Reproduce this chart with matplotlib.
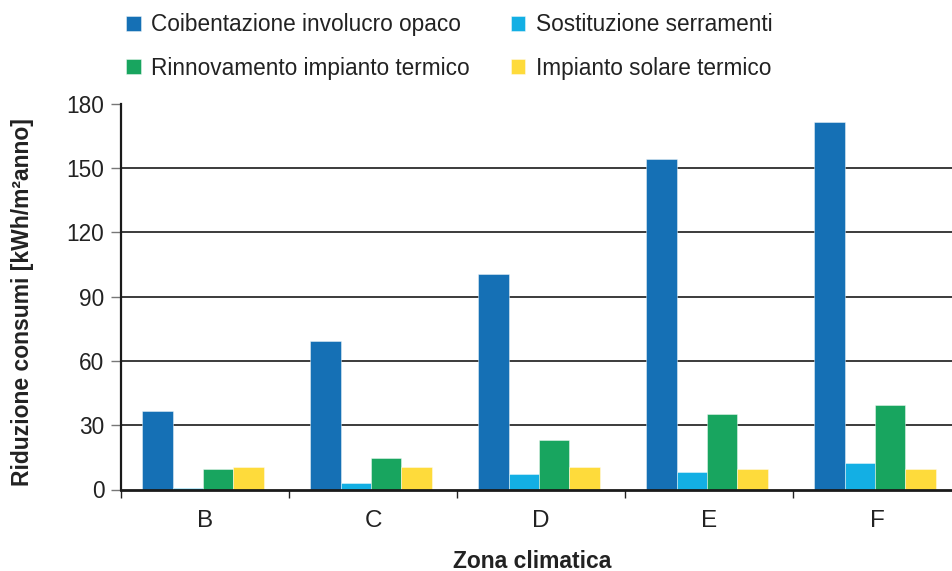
import matplotlib
matplotlib.use("Agg")
import matplotlib.pyplot as plt
import numpy as np
from matplotlib.patches import Patch

plt.rcParams['font.family'] = ['Liberation Sans', 'DejaVu Sans']

zones = ['B', 'C', 'D', 'E', 'F']
series_names = ['Coibentazione involucro opaco', 'Sostituzione serramenti',
                'Rinnovamento impianto termico', 'Impianto solare termico']
coibentazione = [36.7, 69.5, 100.7, 154.5, 171.5]
serramenti = [0.8, 2.9, 7.2, 8.4, 12.3]
impianto_termico = [9.6, 14.7, 22.9, 35.3, 39.4]
solare_termico = [10.6, 10.6, 10.6, 9.5, 9.5]
colors = ['#1570b5', '#13afe4', '#18a55f', '#fedb3b']
yticks = [0, 30, 60, 90, 120, 150, 180]

W, H = 952, 571
fig = plt.figure(figsize=(W / 100, H / 100), dpi=100)
ax = fig.add_axes([121 / W, (H - 489.5) / H, (961 - 121) / W, (489.5 - 104) / H])

x = np.arange(len(zones))
bw = 0.181
data = [coibentazione, serramenti, impianto_termico, solare_termico]
for i, (vals, c) in enumerate(zip(data, colors)):
    ax.bar(x + (i - 1.5) * bw - 0.012, vals, width=bw, color=c,
           edgecolor=(1, 1, 1, 0.5), linewidth=0.6, zorder=2)

ax.set_xlim(-0.5, len(zones) - 0.5)
ax.set_ylim(0, 180)
ax.set_yticks(yticks)
ax.tick_params(axis='y', direction='out', length=7, width=1, color='#777777',
               labelsize=16.3, pad=5, labelcolor='#222222')
ax.set_xticks(np.arange(len(zones)) - 0.5)
ax.set_xticklabels([])
ax.set_xticks(x, minor=True)
ax.set_xticklabels(zones, minor=True)
ax.tick_params(axis='x', which='major', direction='out', length=6, width=1, color='#222222')
ax.tick_params(axis='x', which='minor', length=0, labelsize=17.5, pad=15, labelcolor='#222222')

ax.yaxis.grid(True, color='#1a1a1a', linewidth=1.2, zorder=1)
ax.set_axisbelow(True)
ax.get_ygridlines()[-1].set_visible(False)
ax.get_ygridlines()[0].set_visible(False)

for s in ['top', 'right']:
    ax.spines[s].set_visible(False)
ax.spines['left'].set_linewidth(1.6)
ax.spines['bottom'].set_linewidth(2.0)
ax.spines['left'].set_color('#1a1a1a')
ax.spines['bottom'].set_color('#1a1a1a')

fig.text(532 / W, 1 - 561 / H, 'Zona climatica', ha='center', va='center',
         fontsize=16.5, fontweight='bold', color='#222222')
fig.text(23 / W, 1 - 302 / H, 'Riduzione consumi [kWh/m²anno]', ha='center', va='center',
         rotation=90, fontsize=16.5, fontweight='bold', color='#222222')

order = [0, 2, 1, 3]
handles = [Patch(facecolor=colors[k], edgecolor=(1, 1, 1, 0.5), linewidth=0.6) for k in order]
labels = [series_names[k] for k in order]
fig.legend(handles, labels, ncol=2, loc='upper left', bbox_to_anchor=(106 / W, 1 + 7 / H),
           frameon=False, fontsize=16.3, handlelength=0.65, handleheight=0.65,
           handletextpad=0.45, columnspacing=1.8, labelspacing=0.9,
           labelcolor='#222222')

fig.savefig('out.png', dpi=100)
